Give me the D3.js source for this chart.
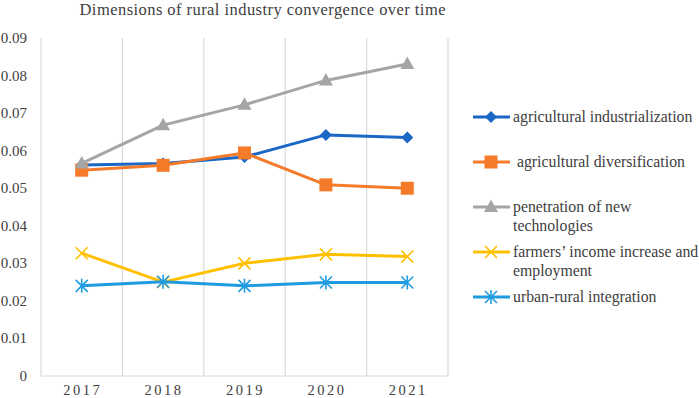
<!DOCTYPE html>
<html><head><meta charset="utf-8">
<script src="https://cdn.jsdelivr.net/npm/d3@7/dist/d3.min.js"></script>
<style>body{margin:0;background:#fff}svg{display:block}svg text{font-family:"Liberation Serif","DejaVu Serif",serif}</style>
</head><body><svg id="c" width="699" height="398"></svg>
<script>
const years = ["2017","2018","2019","2020","2021"];
const yTicks = [0,0.01,0.02,0.03,0.04,0.05,0.06,0.07,0.08,0.09];
const industrialization = [0.0562,0.0566,0.0583,0.0642,0.0635];
const diversification = [0.0548,0.0561,0.0594,0.0509,0.0500];
const technologies = [0.0566,0.0668,0.0722,0.0787,0.0831];
const incomeEmployment = [0.0327,0.0250,0.0300,0.0324,0.0318];
const urbanRural = [0.0240,0.0251,0.0240,0.0249,0.0249];
const seriesNames = [["agricultural industrialization"],[" agricultural diversification"],["penetration of new","technologies"],["farmers\u2019 income increase and","employment"],["urban-rural integration"]];
const seriesColors = ["#1b67c6","#f47b2a","#a5a5a5","#ffc000","#1f9be0"];
const seriesMarkers = ["diamond","square","triangle","x","asterisk"];
const seriesValues = [industrialization,diversification,technologies,incomeEmployment,urbanRural];

const svg = d3.select("#c");
const x = d3.scaleBand().domain(years).range([41,448]).padding(0);
const y = d3.scaleLinear().domain([0,0.09]).range([376,38]);

svg.append("text").attr("x",262.5).attr("y",15).attr("text-anchor","middle")
  .attr("font-size",16.5).attr("fill","#404040")
  .attr("textLength",366).attr("lengthAdjust","spacing")
  .text("Dimensions of rural industry convergence over time");

const edges = years.map(d=>x(d)).concat([x(years[years.length-1])+x.bandwidth()]);
svg.append("g").selectAll("line").data(edges).join("line")
  .attr("x1",d=>d).attr("x2",d=>d).attr("y1",y(0.09)).attr("y2",y(0))
  .attr("stroke","#d9d9d9").attr("stroke-width",1.2);
svg.append("line").attr("x1",41).attr("x2",448).attr("y1",y(0)).attr("y2",y(0))
  .attr("stroke","#d9d9d9").attr("stroke-width",1.2);

svg.append("g").selectAll("text").data(yTicks).join("text")
  .attr("x",27).attr("y",d=>y(d)+5).attr("text-anchor","end")
  .attr("font-size",15).attr("fill","#404040")
  .text(d=>d===0?"0":d3.format(".2f")(d));
svg.append("g").selectAll("text").data(years).join("text")
  .attr("x",d=>x(d)+x.bandwidth()/2+1).attr("y",395).attr("text-anchor","middle")
  .attr("font-size",14.5).attr("fill","#404040")
  .attr("letter-spacing","2.5px")
  .text(d=>d);

function marker(g, type, color, cx, cy){
  const s = g.append("g").attr("transform",`translate(${cx},${cy})`);
  if(type==="diamond") s.append("path").attr("d","M0,-6L6,0L0,6L-6,0Z").attr("fill",color);
  else if(type==="square") s.append("rect").attr("x",-6.5).attr("y",-6.5).attr("width",13).attr("height",13).attr("fill",color);
  else if(type==="triangle") s.append("path").attr("d","M0,-7.5L7,5L-7,5Z").attr("fill",color);
  else if(type==="x") s.append("path").attr("d","M-6,-6L6,6M-6,6L6,-6").attr("stroke",color).attr("stroke-width",1.6);
  else if(type==="asterisk") s.append("path").attr("d","M-6,-6L6,6M-6,6L6,-6M0,-7L0,7").attr("stroke",color).attr("stroke-width",1.6);
}

const line = d3.line().x((d,i)=>x(years[i])+x.bandwidth()/2).y(d=>y(d));
seriesValues.forEach((vals,k)=>{
  const g = svg.append("g");
  g.append("path").attr("d",line(vals)).attr("fill","none")
    .attr("stroke",seriesColors[k]).attr("stroke-width",3).attr("stroke-linejoin","round");
  vals.forEach((v,i)=>marker(g,seriesMarkers[k],seriesColors[k],x(years[i])+x.bandwidth()/2,y(v)));
});

const legY = [117,162,207,252,297];
seriesNames.forEach((lines,k)=>{
  const g = svg.append("g");
  g.append("line").attr("x1",473).attr("x2",510).attr("y1",legY[k]).attr("y2",legY[k])
    .attr("stroke",seriesColors[k]).attr("stroke-width",3);
  marker(g,seriesMarkers[k],seriesColors[k],491,legY[k]);
  lines.forEach((t,j)=>{
    g.append("text").attr("x",513).attr("y",legY[k]+5+j*19)
      .attr("font-size",15.8).attr("fill","#404040")
      .attr("xml:space","preserve").style("white-space","pre").text(t);
  });
});
</script></body></html>
